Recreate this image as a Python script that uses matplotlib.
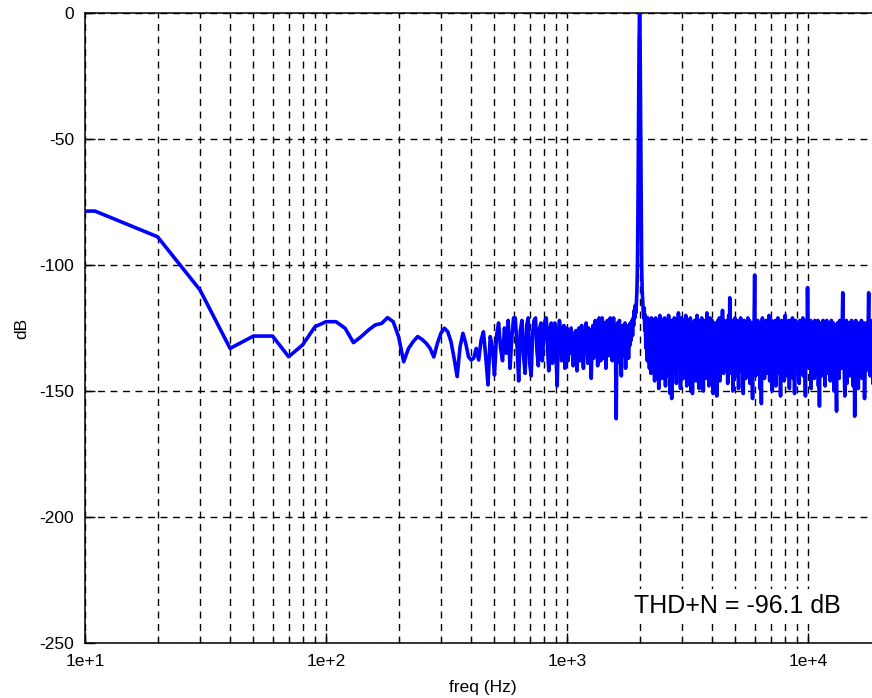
import numpy as np
import matplotlib
matplotlib.use("Agg")
import matplotlib.pyplot as plt
from matplotlib.ticker import LogLocator, NullFormatter

# spectrum (dB), three frequency segments
lo_freq = [10, 11] + list(range(20, 510, 10))
lo_db = [-78.6, -78.6, -88.8, -109.9, -133.1, -128.2, -128.2, -136.4, -131.7, -124.5,
         -122.5, -122.5, -125.1, -130.8, -128.4, -125.8, -123.8, -123.2, -120.9, -122.5,
         -128.4, -138.4, -133.1, -130.4, -128.4, -129.5, -131.0, -133.0, -136.5, -131.0,
         -127.0, -125.1, -126.5, -130.4, -137.0, -144.3, -132.4, -127.1, -131.1, -136.4,
         -137.7, -137.0, -133.1, -137.7, -129.8, -126.5, -136.4, -147.6, -128.4, -132.4,
         -143.7]

mid_freq = list(range(510, 2060, 10))
mid_db = [-128, -123, -133, -138, -125, -135, -122, -141, -129, -121,
          -121, -132, -146, -126, -122, -136, -143, -124, -121, -139,
          -144, -127, -122, -121, -134, -140, -125, -123, -138, -128,
          -122, -121, -133, -142, -125, -123, -139, -130, -123, -136,
          -148, -128, -122, -126, -138, -131, -124, -141, -127, -125,
          -138, -129, -135, -125, -132, -140, -127, -137, -126, -142,
          -133, -125, -138, -129, -124, -135, -141, -126, -132, -123,
          -131, -139, -125, -135, -127, -145, -132, -124, -137, -126,
          -122, -134, -127, -140, -124, -121, -133, -138, -125, -121,
          -127, -137, -123, -131, -141, -124, -122, -130, -136, -125,
          -121, -133, -124, -138, -127, -121, -132, -125, -136, -161,
          -128, -123, -135, -125, -122, -139, -129, -144, -126, -124,
          -136, -125, -133, -123, -141, -128, -124, -135, -126, -137,
          -125, -132, -123, -130, -125, -122, -128, -121, -124, -118,
          -121, -116, -119, -115,
          # fundamental at 2 kHz
          -110, -100, -75, -42, -12, 0, -12, -42, -75, -100, -110]

hi_db = [-114, -118, -121, -117, -126, -120, -133, -122, -128, -138, -121, -135, -124, -141, -122, -130, -143, -121, -136, -126,
         -140, -122, -132, -146, -124, -121, -137, -127, -143, -122, -134, -149, -125, -120, -139, -128, -123, -145, -122, -136,
         -127, -141, -121, -134, -148, -124, -138, -122, -144, -129, -120, -140, -125, -151, -133, -122, -153, -127, -139, -123,
         -136, -121, -143, -128, -124, -147, -122, -137, -126, -119, -141, -132, -123, -149, -125, -121, -139, -128, -145, -122,
         -134, -124, -140, -120, -129, -148, -123, -138, -122, -144, -127, -135, -121, -150, -129, -123, -151, -133, -125, -141,
         -122, -137, -126, -146, -123, -120, -142, -129, -124, -149, -122, -136, -127, -143, -121, -134, -125, -150, -123, -139,
         -128, -122, -145, -125, -119, -140, -133, -123, -148, -127, -121, -138, -124, -144, -122, -135, -151, -126, -139, -123,
         -136, -124, -142, -152, -128, -122, -139, -126, -121, -146, -133, -123, -138, -125, -118, -129, -143, -122, -136, -127,
         -123, -141, -129, -122, -147, -125, -120, -138, -113, -127, -143, -123, -134, -122, -150, -128, -124, -140, -121, -136,
         -126, -144, -122, -135, -124, -149, -123, -139, -128, -121, -142, -127, -137, -123, -151, -131, -122, -140, -126, -145,
         -123, -138, -125, -121, -143, -129, -122, -147, -126, -136, -123, -141, -153, -128, -124, -122, -104, -133, -144, -124,
         -138, -126, -122, -142, -129, -124, -149, -123, -137, -155, -126, -121, -140, -128, -123, -145, -125, -135, -122, -143,
         -128, -123, -141, -126, -120, -146, -133, -124, -139, -122, -150, -129, -123, -142, -126, -137, -122, -148, -125, -140,
         -126, -121, -143, -134, -123, -139, -152, -128, -122, -141, -125, -136, -123, -146, -127, -120, -140, -129, -144, -123,
         -137, -124, -122, -149, -129, -123, -141, -126, -138, -121, -145, -133, -124, -151, -128, -122, -140, -126, -143, -123,
         -135, -124, -147, -122, -139, -128, -123, -142, -126, -121, -144, -134, -124, -140, -152, -126, -122, -138, -109, -128,
         -123, -141, -126, -137, -122, -149, -129, -124, -140, -123, -135, -145, -122, -139, -126, -143, -124, -136, -122, -148,
         -128, -156, -124, -140, -123, -136, -144, -126, -122, -141, -129, -123, -148, -126, -138, -122, -143, -128, -124, -140,
         -123, -136, -146, -125, -122, -141, -129, -139, -123, -150, -126, -137, -124, -142, -158, -128, -123, -140, -126, -145,
         -122, -138, -124, -141, -128, -123, -111, -135, -126, -143, -152, -124, -139, -122, -147, -129, -123, -141, -126, -137,
         -123, -144, -128, -122, -140, -126, -148, -134, -124, -160, -128, -122, -142, -126, -138, -123, -149, -129, -124, -141,
         -126, -137, -122, -145, -129, -124, -140, -123, -153, -135, -126, -142, -123, -139, -128, -124, -111, -136, -126, -144,
         -123, -140, -128, -122, -147, -126, -138, -124, -142, -129, -123, -149, -126, -139, -122, -143, -128, -124, -141, -133]
hi_freq = np.geomspace(2060, 20000, len(hi_db))

freq = np.concatenate([lo_freq, mid_freq, hi_freq])
db = np.concatenate([lo_db, mid_db, hi_db])

xticks = [10, 100, 1000, 10000]
xticklabels = ["1e+1", "1e+2", "1e+3", "1e+4"]
yticks = [0, -50, -100, -150, -200, -250]

plt.rcParams["font.family"] = ["Liberation Sans", "DejaVu Sans"]

W, H = 872, 698
fig = plt.figure(figsize=(W / 100, H / 100), dpi=100)
# right edge of the frame sits just past the picture edge, as in the reference
ax = fig.add_axes([85 / W, (H - 643) / H, (880.6 - 85) / W, 630 / H])

ax.semilogx(freq, db, color="#0000ff", lw=2.6, zorder=3)

ax.set_xlim(10, 20000)
ax.set_ylim(-250, 0)
ax.set_xticks(xticks)
ax.set_xticklabels(xticklabels)
ax.xaxis.set_minor_locator(LogLocator(base=10, subs=np.arange(2, 10)))
ax.xaxis.set_minor_formatter(NullFormatter())
ax.set_yticks(yticks)
ax.set_yticklabels([str(v) for v in yticks])

ax.grid(True, which="both", axis="x", color="black", linestyle=(0, (5, 4)), lw=1.0)
ax.grid(True, which="major", axis="y", color="black", linestyle=(0, (5, 4)), lw=1.0)
ax.tick_params(which="major", direction="in", length=7, width=1, labelsize=12.5, pad=8)
ax.tick_params(which="minor", direction="in", length=4, width=0.8)
for s in ax.spines.values():
    s.set_linewidth(1.1)

ax.set_xlabel("freq (Hz)", fontsize=12.5, labelpad=8)
ax.set_ylabel("dB", fontsize=12.5, labelpad=7)

ax.text(1890, -235.5, "THD+N = -96.1 dB", fontsize=18, ha="left", va="center",
        bbox=dict(facecolor="white", edgecolor="none", pad=4), zorder=4)

fig.savefig("out.png", dpi=100)
